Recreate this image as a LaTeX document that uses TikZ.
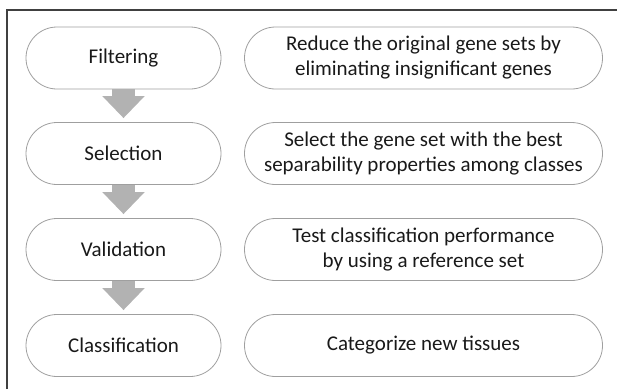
\documentclass[tikz,border=0pt]{standalone}
\usepackage{fontspec}
\setmainfont{Carlito}
\usetikzlibrary{calc,arrows.meta}
\tikzset{
	stepbox/.style={draw=gray!75,line width=0.8pt,rounded corners=31pt,minimum height=62pt,inner sep=0pt,align=center,text=black!90,font=\fontsize{21}{25}\selectfont},
	flowarrow/.style={draw=gray!60,line width=23pt,-{Triangle[width=41pt,length=22pt]},shorten >=4pt}
}
\newcommand{\makestep}[4]{
	\coordinate (#1) at (123.5pt,#4);
	\node (N#1) at (#1) [stepbox,minimum width=195pt] {#2};
	\node (D#1) at ($(#1) + (300pt,0)$) [stepbox,minimum width=358pt] {#3};
}

\begin{document}
\begin{tikzpicture}
	\useasboundingbox (0,0) rectangle (617pt,-389pt);
	\draw[black!75,line width=1.2pt] (7pt,-389pt) -- (7pt,-10pt) -- (617pt,-10pt);
	\makestep{filter}{Filtering}{Reduce the original gene sets by\\eliminating insignificant genes}{-58pt}
	\makestep{select}{Selection}{Select the gene set with the best\\separability properties among classes}{-153.5pt}
	\makestep{valid}{Validation}{Test classification performance\\by using a reference set}{-249.5pt}
	\makestep{classify}{Classification}{Categorize new tissues}{-345.5pt}
	\draw[flowarrow] (Nfilter) -- (Nselect);
	\draw[flowarrow] (Nselect) -- (Nvalid);
	\draw[flowarrow] (Nvalid) -- (Nclassify);
\end{tikzpicture}
\end{document}
